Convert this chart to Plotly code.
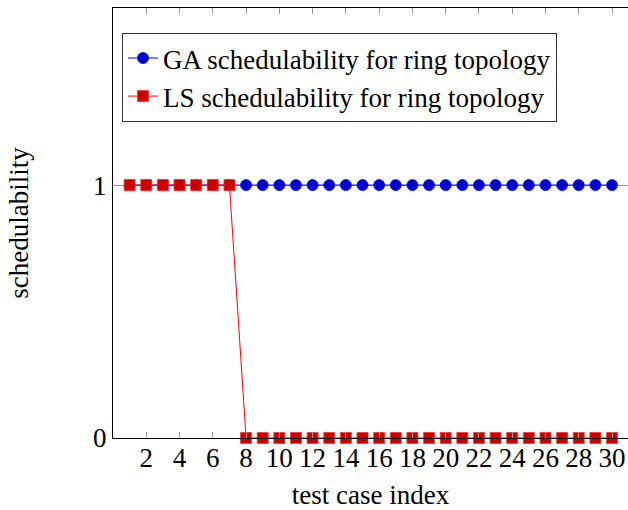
import plotly.graph_objects as go

# test case indices 1..30
test_case = [1, 2, 3, 4, 5, 6, 7, 8, 9, 10, 11, 12, 13, 14, 15,
             16, 17, 18, 19, 20, 21, 22, 23, 24, 25, 26, 27, 28, 29, 30]
ga_sched = [1, 1, 1, 1, 1, 1, 1, 1, 1, 1, 1, 1, 1, 1, 1,
            1, 1, 1, 1, 1, 1, 1, 1, 1, 1, 1, 1, 1, 1, 1]
ls_sched = [1, 1, 1, 1, 1, 1, 1, 0, 0, 0, 0, 0, 0, 0, 0,
            0, 0, 0, 0, 0, 0, 0, 0, 0, 0, 0, 0, 0, 0, 0]
x_ticks = [2, 4, 6, 8, 10, 12, 14, 16, 18, 20, 22, 24, 26, 28, 30]
y_ticks = [0, 1]

SERIF = "Liberation Serif"
FS = 27

fig = go.Figure()

fig.add_trace(
    go.Scatter(
        x=test_case,
        y=ga_sched,
        mode="lines+markers",
        name="GA schedulability for ring topology",
        line=dict(color="#0000ff", width=1),
        marker=dict(symbol="circle", size=11, color="#0000cc",
                    line=dict(color="#0000ff", width=0.8)),
        cliponaxis=False,
    )
)
fig.add_trace(
    go.Scatter(
        x=test_case,
        y=ls_sched,
        mode="lines+markers",
        name="LS schedulability for ring topology",
        line=dict(color="#ff0000", width=1),
        marker=dict(symbol="square", size=11, color="#cc0000",
                    line=dict(color="#ff3030", width=0.8)),
        cliponaxis=False,
    )
)

fig.update_layout(
    width=628,
    height=510,
    margin=dict(l=113, r=0, t=8, b=72),
    plot_bgcolor="white",
    paper_bgcolor="white",
    font=dict(family=SERIF, size=FS, color="black"),
    showlegend=True,
    legend=dict(
        x=0.0175,
        y=0.942,
        xanchor="left",
        yanchor="top",
        bgcolor="white",
        bordercolor="#333",
        borderwidth=1,
        font=dict(family=SERIF, size=FS, color="black"),
        tracegroupgap=0,
        itemwidth=30,
    ),
    xaxis=dict(
        title=dict(text="test case index", font=dict(family=SERIF, size=FS), standoff=14),
        range=[0, 30.96],
        tickvals=x_ticks,
        ticks="inside",
        ticklen=6,
        tickcolor="#999",
        ticklabelstandoff=-5,
        showgrid=False,
        zeroline=False,
        showline=True,
        linecolor="black",
        linewidth=1.2,
        mirror="ticks",
        tickfont=dict(family=SERIF, size=FS),
    ),
    yaxis=dict(
        title=dict(text="schedulability", font=dict(family=SERIF, size=FS), standoff=56),
        range=[0, 1.7],
        tickvals=y_ticks,
        ticks="inside",
        ticklen=6,
        tickcolor="#999",
        showgrid=True,
        gridcolor="#999",
        gridwidth=1,
        zeroline=False,
        showline=True,
        linecolor="black",
        linewidth=1.2,
        tickfont=dict(family=SERIF, size=FS),
    ),
)

fig.write_html(
    "out.html",
    config={"displayModeBar": False},
    post_script="document.body.style.margin='0';document.body.style.overflow='hidden';",
)
